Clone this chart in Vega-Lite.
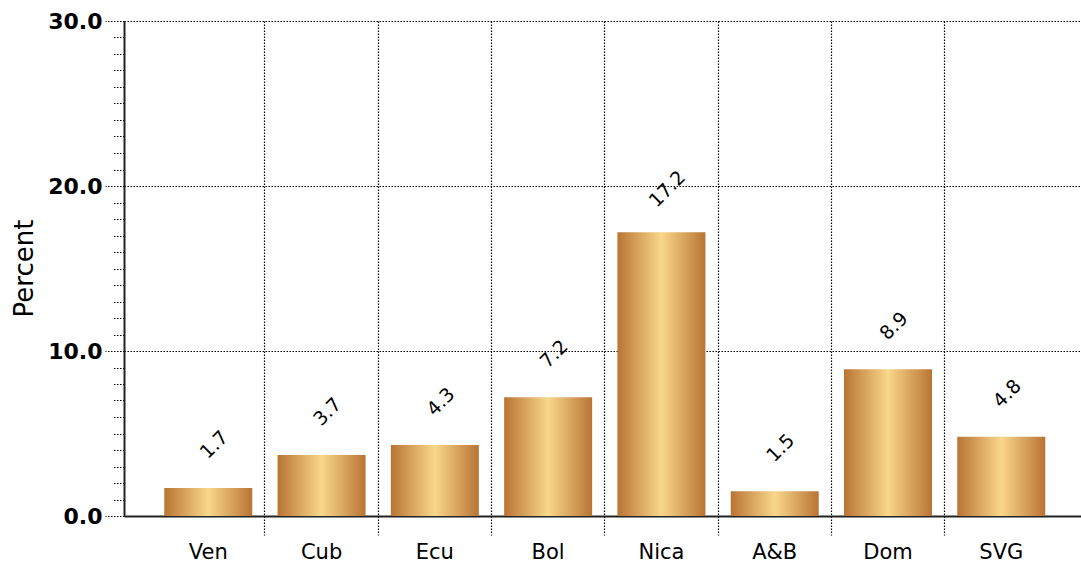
{
  "$schema": "https://vega.github.io/schema/vega-lite/v6.json",
  "width": 957,
  "height": 495,
  "autosize": {"type": "none"},
  "padding": {"left": 124, "top": 21, "right": 0, "bottom": 46},
  "background": "white",
  "config": {"view": {"stroke": null}, "font": "DejaVu Sans"},
  "data": {
    "values": [
      {"country": "Ven", "pct": 1.7},
      {"country": "Cub", "pct": 3.7},
      {"country": "Ecu", "pct": 4.3},
      {"country": "Bol", "pct": 7.2},
      {"country": "Nica", "pct": 17.2},
      {"country": "A&B", "pct": 1.5},
      {"country": "Dom", "pct": 8.9},
      {"country": "SVG", "pct": 4.8}
    ]
  },
  "encoding": {
    "x": {
      "field": "country",
      "type": "nominal",
      "sort": null,
      "scale": {"paddingInner": 0.2232, "paddingOuter": 0.3354, "align": 0.53},
      "axis": {
        "title": null,
        "labelAngle": 0,
        "labelFont": "DejaVu Sans",
        "labelFontSize": 21,
        "labelColor": "#000",
        "labelPadding": 6,
        "bandPosition": -0.1437,
        "ticks": true,
        "tickSize": 19,
        "tickColor": "#000",
        "tickWidth": 1.2,
        "tickDash": [1.5, 1.5],
        "tickOpacity": {"condition": {"test": "datum.value === 'Ven'", "value": 0}, "value": 1},
        "grid": true,
        "gridColor": "#000",
        "gridWidth": 1.2,
        "gridDash": [1.5, 1.5],
        "gridOpacity": {"condition": {"test": "datum.value === 'Ven'", "value": 0}, "value": 1},
        "domainColor": "#222",
        "domainWidth": 2
      }
    },
    "y": {
      "field": "pct",
      "type": "quantitative",
      "scale": {"domain": [0, 30], "nice": false, "zero": true},
      "axis": {
        "title": "Percent",
        "titleFont": "DejaVu Sans",
        "titleFontSize": 26,
        "titleFontWeight": "normal",
        "titleColor": "#000",
        "titleX": -92,
        "titleY": 247,
        "titleBaseline": "alphabetic",
        "values": [0,1,2,3,4,5,6,7,8,9,10,11,12,13,14,15,16,17,18,19,20,21,22,23,24,25,26,27,28,29,30],
        "format": ".1f",
        "labelExpr": "datum.value % 10 === 0 ? datum.label : ''",
        "labelOverlap": false,
        "labelFont": "DejaVu Sans",
        "labelFontSize": 22,
        "labelFontWeight": "bold",
        "labelColor": "#000",
        "labelPadding": 3,
        "tickSize": 19,
        "tickColor": "#000",
        "tickWidth": 1.2,
        "tickDash": {"condition": {"test": "datum.value % 10 === 0", "value": [1.5, 1.5]}, "value": [1.5, 1.5, 1.5, 1.5, 1.5, 1.5, 1.5, 30]},
        "grid": true,
        "gridColor": "#000",
        "gridWidth": 1.2,
        "gridDash": [1.5, 1.5],
        "gridOpacity": {"condition": {"test": "datum.value % 10 === 0", "value": 1}, "value": 0},
        "domainColor": "#222",
        "domainWidth": 2
      }
    }
  },
  "layer": [
    {
      "mark": {
        "type": "bar",
        "color": {
          "gradient": "linear",
          "x1": 0, "x2": 1, "y1": 0, "y2": 0,
          "stops": [
            {"offset": 0, "color": "#B97434"},
            {"offset": 0.5, "color": "#F9D78A"},
            {"offset": 1, "color": "#B97434"}
          ]
        }
      }
    },
    {
      "mark": {
        "type": "text",
        "angle": -45,
        "align": "center",
        "baseline": "middle",
        "dx": 34.7,
        "dy": -26.2,
        "font": "DejaVu Sans",
        "fontSize": 19,
        "color": "#000"
      },
      "encoding": {
        "text": {"field": "pct", "type": "quantitative", "format": ".1f"}
      }
    }
  ]
}
